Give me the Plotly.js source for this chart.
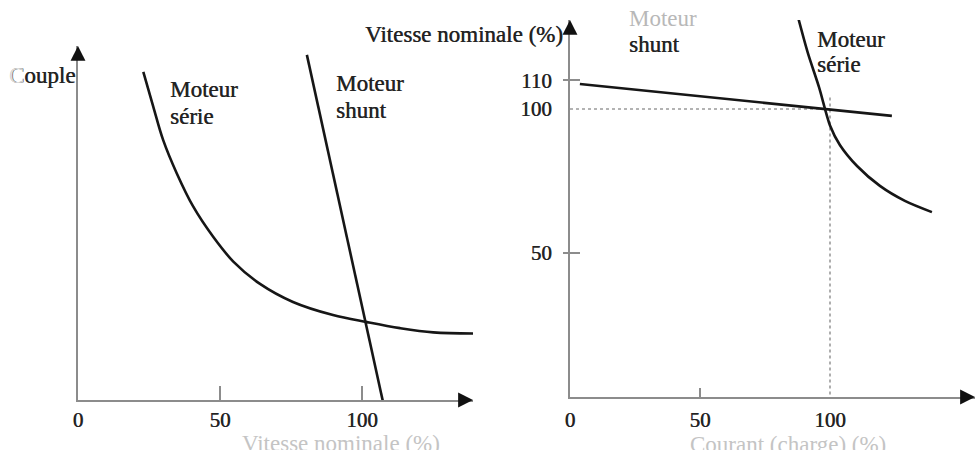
<!DOCTYPE html>
<html>
<head>
<meta charset="utf-8">
<script src="https://cdn.plot.ly/plotly-3.0.1.min.js"></script>
<style>html,body{margin:0;padding:0;background:#fff;}#chart{width:975px;height:450px;}</style>
</head>
<body>
<div id="chart"></div>
<script>
// ---------- data: left panel (Couple vs Vitesse nominale) ----------
const leftSerieX = [23.0, 26.5, 30.0, 34.8, 40.6, 47.6, 54.7, 64.1, 75.7, 89.8, 101.8, 113.4, 125.1, 139.2];
const leftSerieY = [92.7, 82.9, 73.4, 64.0, 54.6, 46.1, 39.1, 32.8, 27.7, 24.0, 22.0, 20.3, 19.1, 18.8];
const leftShuntX = [80.6, 107.4];
const leftShuntY = [97.5, -0.5];
const leftTickVals = [0, 50, 100];
const leftTickText = ['0', '50', '100'];

// ---------- data: right panel (Vitesse nominale vs Courant) ----------
const rightSerieX = [87.7, 91.5, 95.8, 100.0, 103.8, 110.4, 119.2, 128.8, 139.2];
const rightSerieY = [131.9, 119.4, 107.5, 94.3, 87.5, 80.2, 73.3, 68.1, 64.2];
const rightShuntX = [3.8, 123.8];
const rightShuntY = [108.7, 97.6];
const refHX = [0, 100];
const refHY = [100, 100];
const refVX = [100, 100];
const refVY = [104, 0];
const rightXTickVals = [0, 50, 100];
const rightXTickText = ['0', '50', '100'];
const rightYTickVals = [50, 100, 110];
const rightYTickText = ['50', '100', '110'];

// ---------- labels ----------
const leftYTitle = '<span style="color:#dcdcdc">C</span>ouple';
const leftXTitle = 'Vitesse nominale (%)';
const rightYTitle = 'Vitesse nominale (%)';
const rightXTitle = 'Courant (charge) (%)';
const labelSerie = ['Moteur', 'série'];
const labelShunt = ['Moteur', 'shunt'];

// ---------- styling ----------
const W = 975, H = 450;
const FONT = 'Liberation Serif, Times New Roman, serif';
const TXT = '#222';
const SHADOW = '0.5px 0 0 #444';
const AXC = '#8c8c8c';
const CURVE = '#161616';
const px = (x, y) => ({x: x / W, y: 1 - y / H});

const curve = (x, y, xa, ya, sm) => ({
  x: x, y: y, xaxis: xa, yaxis: ya, type: 'scatter', mode: 'lines',
  line: {color: CURVE, width: 2.6, shape: 'spline', smoothing: sm},
  cliponaxis: false, hoverinfo: 'skip', showlegend: false
});
const dotted = (x, y) => ({
  x: x, y: y, xaxis: 'x2', yaxis: 'y2', type: 'scatter', mode: 'lines',
  line: {color: '#9a9a9a', width: 1.6, dash: 'dot'},
  cliponaxis: false, hoverinfo: 'skip', showlegend: false
});

const traces = [
  dotted(refHX, refHY),
  dotted(refVX, refVY),
  curve(leftSerieX, leftSerieY, 'x', 'y', 1),
  curve(leftShuntX, leftShuntY, 'x', 'y', 1),
  curve(rightSerieX, rightSerieY, 'x2', 'y2', 0.8),
  curve(rightShuntX, rightShuntY, 'x2', 'y2', 1)
];

const tickFont = {family: FONT, size: 21, color: TXT, shadow: SHADOW};
const baseAxis = {showgrid: false, zeroline: false, fixedrange: true};

const LX0 = 78, LX1 = 473, LYB = 400, LYT = 46;
const RX0 = 570, RYB = 397, RYT = 20;
const leftXMax = 139.1, leftYMax = 100;
const rightXMax = (W - RX0) / 2.6, rightYMax = (RYB - RYT) / 2.88;

function textAnn(text, pos, opts) {
  const p = px(pos[0], pos[1]);
  return Object.assign({
    text: text, x: p.x, y: p.y, xref: 'paper', yref: 'paper', showarrow: false,
    xanchor: 'left', yanchor: 'middle',
    font: {family: FONT, size: 23, color: TXT, shadow: SHADOW}
  }, opts || {});
}
function arrowAnn(xa, ya, x, y, ax, ay) {
  return {x: x, y: y, ax: ax, ay: ay, xref: xa, yref: ya, axref: xa, ayref: ya,
    text: '', showarrow: true, arrowhead: 2, arrowsize: 1.35, arrowwidth: 2.2,
    arrowcolor: '#111', standoff: 0};
}
const fadedFont = {family: FONT, size: 23, color: '#c4c4c4'};

const annotations = [
  textAnn(leftYTitle, [77, 76], {xanchor: 'right'}),
  textAnn(labelSerie[0], [168, 90]),
  textAnn(labelSerie[1], [168, 116]),
  textAnn(labelShunt[0], [334, 84]),
  textAnn(labelShunt[1], [334, 110]),
  textAnn(leftXTitle, [341, 443], {xanchor: 'center', font: fadedFont}),
  textAnn(rightYTitle, [565, 35], {xanchor: 'right'}),
  textAnn(labelShunt[0], [627, 18], {font: {family: FONT, size: 23, color: '#b8b8b8'}}),
  textAnn(labelShunt[1], [627, 45]),
  textAnn(labelSerie[0], [815, 39]),
  textAnn(labelSerie[1], [815, 64]),
  textAnn(rightXTitle, [788, 444], {xanchor: 'center', font: fadedFont}),
  arrowAnn('x', 'y', leftXMax, 0, leftXMax - 3, 0),
  arrowAnn('x', 'y', 0, leftYMax, 0, leftYMax - 3),
  arrowAnn('x2', 'y2', rightXMax, 0, rightXMax - 3, 0),
  arrowAnn('x2', 'y2', 0, rightYMax, 0, rightYMax - 3)
];

const layout = {
  width: W, height: H,
  margin: {l: 0, r: 0, t: 0, b: 0},
  paper_bgcolor: '#fff', plot_bgcolor: 'rgba(0,0,0,0)',
  showlegend: false,
  xaxis: Object.assign({}, baseAxis, {
    domain: [LX0 / W, LX1 / W], range: [0, leftXMax], anchor: 'y',
    showline: true, linecolor: AXC, linewidth: 2,
    tickvals: leftTickVals, ticktext: leftTickText, tickfont: tickFont,
    ticks: 'inside', ticklen: 14, tickwidth: 2, tickcolor: AXC, ticklabelstandoff: 0
  }),
  yaxis: Object.assign({}, baseAxis, {
    domain: [1 - LYB / H, 1 - LYT / H], range: [0, leftYMax], anchor: 'x',
    showline: true, linecolor: AXC, linewidth: 2, showticklabels: false, ticks: ''
  }),
  xaxis2: Object.assign({}, baseAxis, {
    domain: [RX0 / W, 1], range: [0, rightXMax], anchor: 'y2',
    showline: true, linecolor: AXC, linewidth: 2,
    tickvals: rightXTickVals, ticktext: rightXTickText, tickfont: tickFont,
    ticks: '', ticklabelstandoff: 3
  }),
  yaxis2: Object.assign({}, baseAxis, {
    domain: [1 - RYB / H, 1 - RYT / H], range: [0, rightYMax], anchor: 'x2',
    showline: true, linecolor: AXC, linewidth: 2,
    tickvals: rightYTickVals, ticktext: rightYTickText, tickfont: tickFont,
    ticks: '', ticklabelstandoff: 12
  }),
  // overlay axes only carrying tick marks
  xaxis3: Object.assign({}, baseAxis, {
    overlaying: 'x2', anchor: 'y2', range: [0, rightXMax], showline: false,
    tickvals: [50], showticklabels: false, ticks: 'inside', ticklen: 9, tickwidth: 2, tickcolor: AXC
  }),
  yaxis3: Object.assign({}, baseAxis, {
    overlaying: 'y2', anchor: 'x2', range: [0, rightYMax], showline: false,
    tickvals: [50, 110], showticklabels: false, ticks: 'outside', ticklen: 6, tickwidth: 2, tickcolor: AXC
  }),
  yaxis4: Object.assign({}, baseAxis, {
    overlaying: 'y2', anchor: 'x2', range: [0, rightYMax], showline: false,
    tickvals: [50, 110], showticklabels: false, ticks: 'inside', ticklen: 10, tickwidth: 2, tickcolor: AXC
  }),
  annotations: annotations
};

// empty traces so overlay tick axes get drawn
traces.push({x: [], y: [], xaxis: 'x3', yaxis: 'y2', type: 'scatter', showlegend: false, hoverinfo: 'skip'});
traces.push({x: [], y: [], xaxis: 'x2', yaxis: 'y3', type: 'scatter', showlegend: false, hoverinfo: 'skip'});
traces.push({x: [], y: [], xaxis: 'x2', yaxis: 'y4', type: 'scatter', showlegend: false, hoverinfo: 'skip'});

Plotly.newPlot('chart', traces, layout, {staticPlot: true, displayModeBar: false});
</script>
</body>
</html>
